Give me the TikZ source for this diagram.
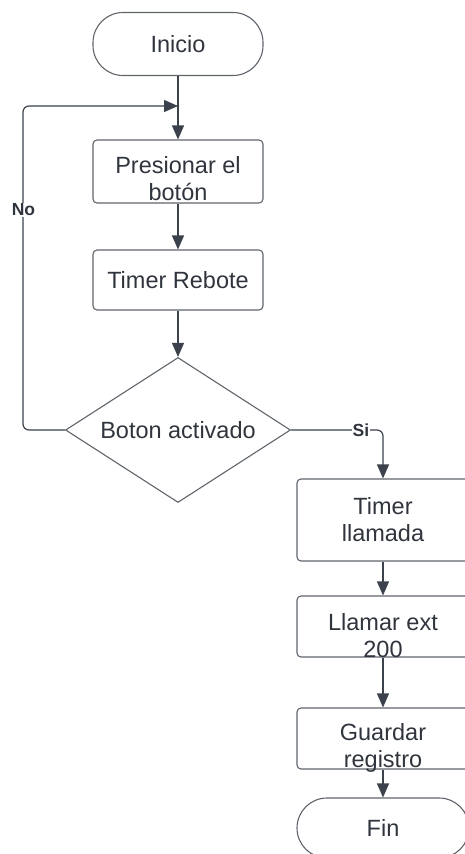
\documentclass[tikz,border=0pt]{standalone}
\usepackage{fontspec}
\setmainfont{Liberation Sans}
\usetikzlibrary{arrows.meta,shapes.geometric}
\definecolor{ln}{HTML}{3B424C}
\definecolor{bx}{HTML}{5F646B}
\definecolor{tx}{HTML}{30353D}
\begin{document}
\begin{tikzpicture}[x=1pt,y=-1pt,
  box/.style={draw=bx, line width=1.1pt, rounded corners=4pt, minimum width=170pt,
    minimum height=62pt, inner sep=0pt, align=center, text=tx,
    font=\fontsize{23.5}{27}\selectfont},
  term/.style={box, rounded corners=30pt},
  txt/.style={inner sep=0pt, align=center, text=tx, font=\fontsize{23.5}{27}\selectfont},
  dia/.style={diamond, draw=bx, line width=1.1pt, minimum width=225pt, minimum height=145pt,
    aspect=1.55, inner sep=0pt, text=tx, font=\fontsize{23.5}{27}\selectfont},
  arr/.style={draw=ln, line width=1.2pt, -{Triangle[length=14pt,width=12pt]}},
  lbl/.style={fill=white, inner sep=1pt, text=tx, font=\fontsize{17.5}{19}\selectfont\bfseries}]
\useasboundingbox (0,0) rectangle (464,854);
\node[term, minimum height=63pt] (inicio) at (178,44) {Inicio};
\node[box, minimum height=63pt] (pres) at (178,171.5) {};
\node[txt] (prest) at (178,179) {Presionar el\\botón};
\node[box, minimum height=60pt] (timer) at (178,280) {Timer Rebote};
\node[dia] (boton) at (178,430) {Boton activado};
\node[box, minimum width=172pt, minimum height=82pt] (tll) at (383,520) {Timer\\llamada};
\node[box, minimum width=172pt, minimum height=61pt] (llam) at (383,626.5) {};
\node[txt] (llamt) at (383,636) {Llamar ext\\200};
\node[box, minimum width=172pt, minimum height=61pt] (guar) at (383,738.5) {};
\node[txt] (guart) at (383,748) {Guardar\\registro};
\node[term, minimum width=172pt, minimum height=60pt] (fin) at (383,828) {Fin};
\coordinate (j) at (178,106);
\coordinate (lc) at (23,106);
\draw[arr] (inicio) -- (pres);
\draw[arr] (timer) -- (boton);
\draw[arr, rounded corners=6pt] (boton.west) -| (lc) -- (j);
\draw[arr, rounded corners=6pt] (boton.east) -| (tll.north);
\draw[arr] (pres) -- (timer);
\draw[arr] (tll) -- (llam);
\draw[arr] (llam) -- (guar);
\draw[arr] (guar) -- (fin);
\node[lbl] (no) at (23.5,210) {No};
\node[lbl] (si) at (361,430) {Si};
\end{tikzpicture}
\end{document}
